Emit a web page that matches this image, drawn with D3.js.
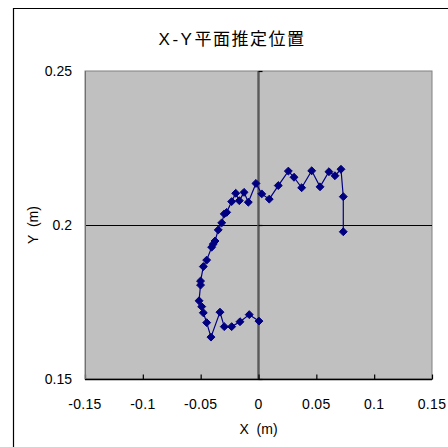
<!DOCTYPE html>
<html>
<head>
<meta charset="utf-8">
<script src="https://cdn.jsdelivr.net/npm/d3@7"></script>
<style>
  html, body { margin: 0; padding: 0; background: #fff; }
  svg { display: block; }
</style>
</head>
<body>
<svg id="chart" width="448" height="447"></svg>
<script>
// Estimated X-Y position track (metres)
const xValues = [
  0.0004, -0.0080, -0.0160, -0.0232, -0.0296, -0.0333, -0.0411, -0.0448,
  -0.0477, -0.0491, -0.0514, -0.0501, -0.0501, -0.0477, -0.0448, -0.0405,
  -0.0391, -0.0376, -0.0348, -0.0318, -0.0296, -0.0275, -0.0232, -0.0197,
  -0.0166, -0.0125, -0.0088, -0.0022, 0.0028, 0.0093, 0.0171, 0.0258,
  0.0307, 0.0373, 0.0460, 0.0532, 0.0609, 0.0661, 0.0713, 0.0733, 0.0733
];
const yValues = [
  0.1688, 0.1709, 0.1686, 0.1670, 0.1670, 0.1717, 0.1636, 0.1683,
  0.1715, 0.1735, 0.1754, 0.1805, 0.1818, 0.1865, 0.1886, 0.1928,
  0.1938, 0.1948, 0.1984, 0.2007, 0.2036, 0.2041, 0.2076, 0.2103,
  0.2079, 0.2106, 0.2074, 0.2135, 0.2101, 0.2084, 0.2128, 0.2175,
  0.2155, 0.2121, 0.2176, 0.2124, 0.2173, 0.2160, 0.2181, 0.2092, 0.1978
];
const xTicks = [-0.15, -0.1, -0.05, 0, 0.05, 0.1, 0.15];
const yTicks = [0.15, 0.2, 0.25];
const xTickLabels = ["-0.15", "-0.1", "-0.05", "0", "0.05", "0.1", "0.15"];
const yTickLabels = ["0.15", "0.2", "0.25"];

const titleLatin = "X-Y";
const titleCjk = "平面推定位置";
const xTitle = "X  (m)";
const yTitle = "Y  (m)";

const points = xValues.map((x, i) => ({ x, y: yValues[i] }));

const svg = d3.select("#chart");
const plot = { left: 85, right: 432, top: 71, bottom: 379 };

const x = d3.scaleLinear().domain([-0.15, 0.15]).range([plot.left, plot.right]);
const y = d3.scaleLinear().domain([0.15, 0.25]).range([plot.bottom, plot.top]);

const latin = "'Liberation Sans', Arial, sans-serif";

// Outer chart frame (runs off the right and bottom edges)
svg.append("path")
  .attr("d", "M13.5,460 V8.5 H460")
  .attr("fill", "none")
  .attr("stroke", "#000")
  .attr("stroke-width", 1.2);

// Title
const title = svg.append("text")
  .attr("x", 232).attr("y", 45)
  .attr("text-anchor", "middle")
  .attr("font-size", 17)
  .attr("fill", "#000");
title.append("tspan")
  .attr("font-family", latin)
  .attr("letter-spacing", 2.5)
  .text(titleLatin);
title.append("tspan")
  .attr("font-family", "'Noto Sans CJK JP', 'Noto Sans', sans-serif")
  .attr("letter-spacing", 1.5)
  .text(titleCjk);

// Plot area
svg.append("rect")
  .attr("x", plot.left).attr("y", plot.top)
  .attr("width", plot.right - plot.left).attr("height", plot.bottom - plot.top)
  .attr("fill", "#c0c0c0")
  .attr("stroke", "#808080")
  .attr("stroke-width", 1);

// Horizontal line at y = 0.2
svg.append("line")
  .attr("x1", plot.left).attr("x2", plot.right)
  .attr("y1", Math.round(y(0.2)) + 0.5).attr("y2", Math.round(y(0.2)) + 0.5)
  .attr("stroke", "#000").attr("stroke-width", 1);

// Vertical axis line at x = 0
svg.append("line")
  .attr("x1", x(0)).attr("x2", x(0))
  .attr("y1", plot.top).attr("y2", plot.bottom)
  .attr("stroke", "#5a5a5a").attr("stroke-width", 2.4);

// Small ticks on the vertical axis
svg.append("g").selectAll("line")
  .data(yTicks)
  .join("line")
  .attr("x1", x(0)).attr("x2", x(0) + 4)
  .attr("y1", d => y(d) + 0.5).attr("y2", d => y(d) + 0.5)
  .attr("stroke", "#000").attr("stroke-width", 1.2);

// Bottom axis with inward ticks
const xAxis = d3.axisTop(x)
  .tickValues(xTicks)
  .tickSize(5)
  .tickFormat("");
const gx = svg.append("g")
  .attr("transform", `translate(0,${plot.bottom + 0.5})`)
  .call(xAxis);
gx.select(".domain").attr("stroke", "#000").attr("stroke-width", 1.4).attr("d", `M${plot.left},0H${plot.right}`);
gx.selectAll(".tick line").attr("stroke", "#000").attr("stroke-width", 1.2);

// Left edge of plot
svg.append("line")
  .attr("x1", plot.left + 0.5).attr("x2", plot.left + 0.5)
  .attr("y1", plot.top).attr("y2", plot.bottom)
  .attr("stroke", "#707070").attr("stroke-width", 1);

// X tick labels
svg.append("g").selectAll("text")
  .data(xTicks)
  .join("text")
  .attr("x", d => x(d))
  .attr("y", 409)
  .attr("text-anchor", "middle")
  .attr("font-family", latin)
  .attr("font-size", 14)
  .attr("letter-spacing", 0.3)
  .attr("fill", "#000")
  .text((d, i) => xTickLabels[i]);

// Y tick labels
svg.append("g").selectAll("text")
  .data(yTicks)
  .join("text")
  .attr("x", 72)
  .attr("y", d => y(d) + 5)
  .attr("text-anchor", "end")
  .attr("font-family", latin)
  .attr("font-size", 14)
  .attr("fill", "#000")
  .text((d, i) => yTickLabels[i]);

// Axis titles
svg.append("text")
  .attr("x", x(0)).attr("y", 434)
  .attr("text-anchor", "middle")
  .attr("font-family", latin)
  .attr("font-size", 14)
  .style("white-space", "pre")
  .text(xTitle);

svg.append("text")
  .attr("transform", `translate(38,${y(0.2)}) rotate(-90)`)
  .attr("text-anchor", "middle")
  .attr("font-family", latin)
  .attr("font-size", 14)
  .style("white-space", "pre")
  .text(yTitle);

// Track line
const line = d3.line().x(d => x(d.x)).y(d => y(d.y));
svg.append("path")
  .datum(points)
  .attr("d", line)
  .attr("fill", "none")
  .attr("stroke", "#000080")
  .attr("stroke-width", 1.2);

// Diamond markers
const diamond = d3.symbol().type(d3.symbolDiamond2).size(40);
svg.append("g").selectAll("path")
  .data(points)
  .join("path")
  .attr("transform", d => `translate(${x(d.x)},${y(d.y)})`)
  .attr("d", diamond)
  .attr("fill", "#000080")
  .attr("stroke", "#000080")
  .attr("stroke-width", 1);
</script>
</body>
</html>
